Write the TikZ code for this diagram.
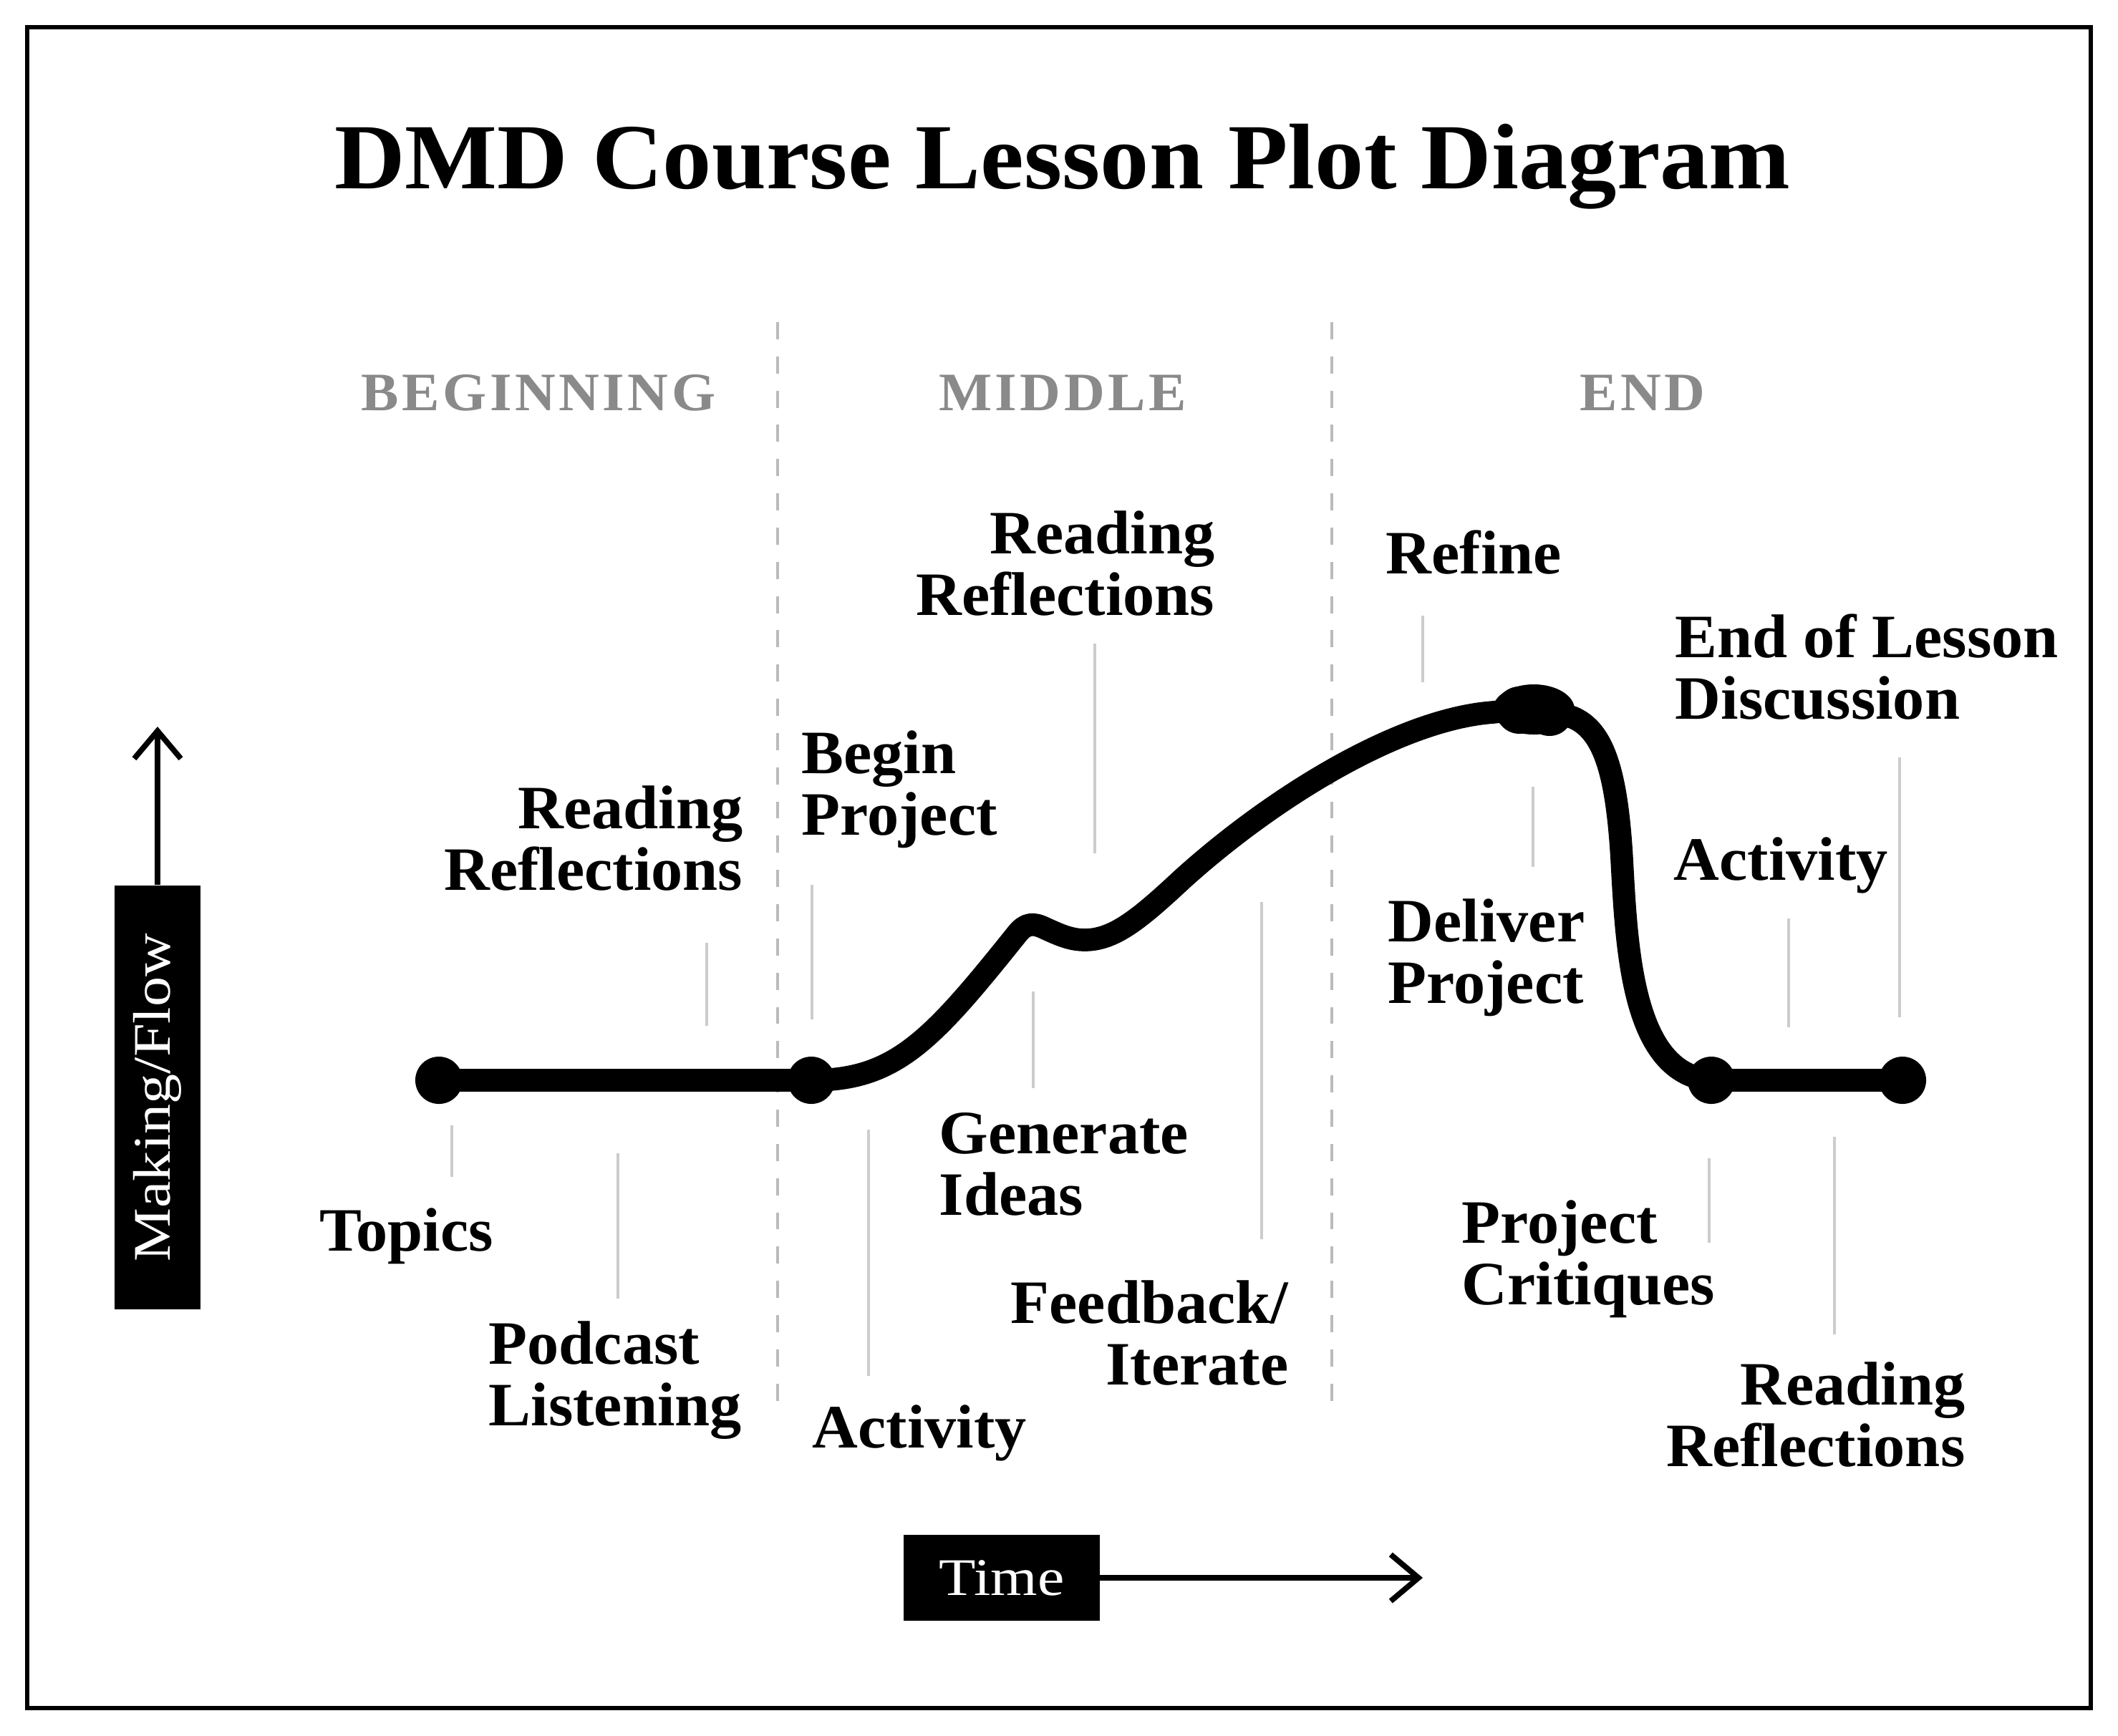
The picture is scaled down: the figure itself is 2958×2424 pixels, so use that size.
\documentclass[tikz,border=0pt]{standalone}
\usepackage{fontspec}
\setmainfont{Liberation Serif}[FakeStretch=1.025]
\newfontfamily\titlefont{Liberation Serif}[FakeStretch=1.05]
\newfontfamily\secfont{Liberation Serif}[FakeStretch=1.04,LetterSpace=6]
\newfontfamily\boxfont{Liberation Serif}[FakeStretch=1.14]
\usetikzlibrary{arrows.meta}
\definecolor{secgray}{HTML}{8A8A8A}
\definecolor{leadgray}{HTML}{CCCCCC}
\definecolor{dashgray}{HTML}{BBBBBB}
\newcommand\mylines[2]{\begin{tabular}[t]{@{}#1@{}}#2\end{tabular}}
\tikzset{
  lbl/.style={inner sep=0pt, font=\fontsize{24.5}{24.6}\selectfont\bfseries},
  lblL/.style={lbl, anchor=base west},
  lblR/.style={lbl, anchor=base east},
  sec/.style={inner sep=0pt, anchor=base, text=secgray, font=\secfont\fontsize{21.5}{24}\selectfont\bfseries},
  leader/.style={draw=leadgray, line width=1.1pt},
  divider/.style={draw=dashgray, line width=1pt, dash pattern=on 6.8pt off 6.8pt},
  curve/.style={line width=9pt, line cap=round, line join=round},
  dotnode/.style={circle, fill=black, inner sep=0pt, minimum size=0.66cm},
  axisbox/.style={fill=black, inner sep=0pt},
  axisarrow/.style={line width=2.2pt, -{Straight Barb[length=11pt,width=18.5pt]}},
}
\begin{document}
\begin{tikzpicture}[x=0.01cm, y=-0.01cm]
\useasboundingbox (0,0) rectangle (2958,2424);
\fill[white] (0,0) rectangle (2958,2424);
\draw[line width=1.7pt] (38,38) rectangle (2920,2386);

% title
\node[inner sep=0pt, anchor=base, font=\titlefont\fontsize{37}{40}\selectfont\bfseries] (title) at (1484,263) {DMD Course Lesson Plot Diagram};

% sections
\node[sec] (secB) at (752,573) {BEGINNING};
\node[sec] (secM) at (1484,573) {MIDDLE};
\node[sec] (secE) at (2294,573) {END};
\draw[divider] (1086,450) -- (1086,1962);
\draw[divider] (1860,450) -- (1860,1962);

% dots
\node[dotnode] (d1) at (613,1509) {};
\node[dotnode] (d2) at (1133,1509) {};
\node[dotnode] (d3) at (2390,1509) {};
\node[dotnode] (d4) at (2657,1509) {};

% main curve
\draw[curve] (d1.center) -- (d2.center);
\draw[curve] (d2.center)
  .. controls (1250,1509) and (1300,1455) .. (1420,1305)
  .. controls (1432,1290) and (1442,1288) .. (1460,1297)
  .. controls (1480,1306) and (1495,1313) .. (1515,1313)
  .. controls (1555,1313) and (1590,1285) .. (1650,1229)
  .. controls (1770,1120) and (1950,1005) .. (2085,995)
  .. controls (2130,990) and (2160,990) .. (2196,1002)
  .. controls (2240,1020) and (2258,1080) .. (2265,1200)
  .. controls (2272,1330) and (2280,1500) .. (d3.center);
\draw[curve] (d3.center) -- (d4.center);
% peak blob
\fill (2142,991) ellipse[x radius=0.57cm, y radius=0.35cm];
\fill (2122,992) circle[radius=0.33cm];
\fill (2164,995) circle[radius=0.33cm];

% labels
\node[lblR] (rr1) at (1038,1157) {\mylines{r}{Reading\\Reflections}};
\node[lblL] (topics) at (446,1747) {Topics};
\node[lblL] (podcast) at (682,1905) {\mylines{l}{Podcast\\Listening}};
\node[lblL] (begin) at (1119,1080) {\mylines{l}{Begin\\Project}};
\node[lblL] (act1) at (1134,2022) {Activity};
\node[lblR] (rr2) at (1697,773) {\mylines{r}{Reading\\Reflections}};
\node[lblL] (gen) at (1311,1611) {\mylines{l}{Generate\\Ideas}};
\node[lblR] (feed) at (1800,1848) {\mylines{r}{Feedback/\\Iterate}};
\node[lblL] (refine) at (1935,801) {Refine};
\node[lblL] (deliver) at (1938,1315) {\mylines{l}{Deliver\\Project}};
\node[lblL] (eol) at (2339,918) {\mylines{l}{End of Lesson\\Discussion}};
\node[lblL] (act2) at (2337,1229) {Activity};
\node[lblL] (crit) at (2041,1736) {\mylines{l}{Project\\Critiques}};
\node[lblR] (rr3) at (2745,1962) {\mylines{r}{Reading\\Reflections}};

% leaders
\draw[leader] (987,1317) -- (987,1433);
\draw[leader] (631,1572) -- (631,1644);
\draw[leader] (863,1611) -- (863,1814);
\draw[leader] (1134,1236) -- (1134,1424);
\draw[leader] (1213,1578) -- (1213,1922);
\draw[leader] (1529,899) -- (1529,1192);
\draw[leader] (1443,1385) -- (1443,1520);
\draw[leader] (1762,1260) -- (1762,1731);
\draw[leader] (1987,860) -- (1987,953);
\draw[leader] (2141,1099) -- (2141,1211);
\draw[leader] (2653,1058) -- (2653,1421);
\draw[leader] (2498,1283) -- (2498,1435);
\draw[leader] (2387,1618) -- (2387,1736);
\draw[leader] (2562,1588) -- (2562,1864);

% axes
\node[axisbox, minimum width=1.2cm, minimum height=5.92cm] (flowbox) at (220,1533) {};
\node[rotate=90, text=white, inner sep=0pt, font=\boxfont\fontsize{21}{24}\selectfont] (flowtext) at (flowbox.center) {Making/Flow};
\coordinate (flowend) at (220,1015);
\draw[axisarrow] (flowbox.north) -- (flowend);

\node[axisbox, minimum width=2.73cm, minimum height=1.2cm, text=white, font=\boxfont\fontsize{21}{24}\selectfont] (timebox) at (1399,2204) {Time};
\coordinate (timeend) at (1987,2204);
\draw[axisarrow] (timebox.east) -- (timeend);
\end{tikzpicture}
\end{document}
